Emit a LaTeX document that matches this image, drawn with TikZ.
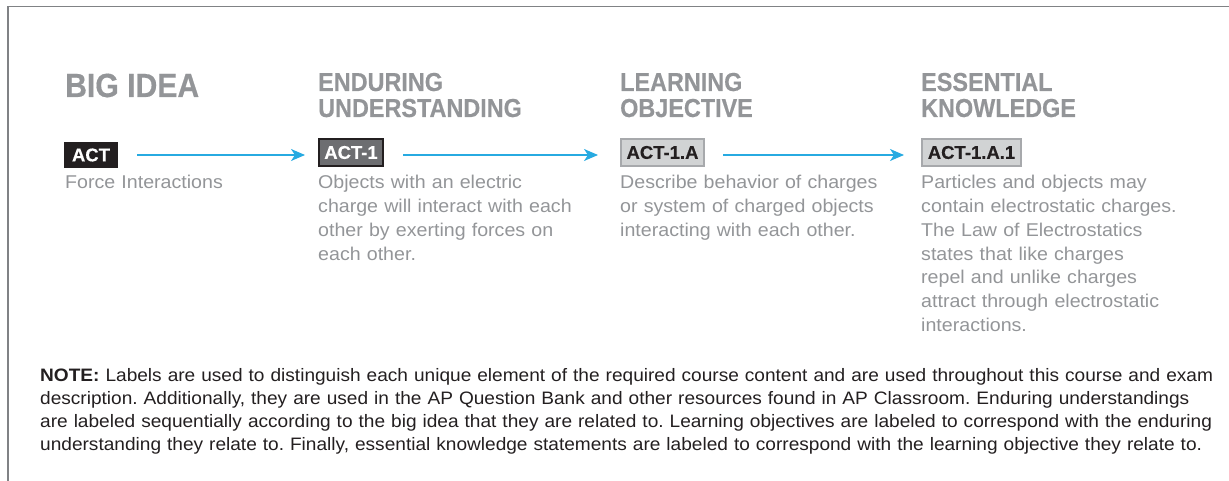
\documentclass[tikz,border=0pt]{standalone}
\usepackage{fontspec}
\setmainfont{Liberation Sans}
\newfontfamily\headfont[FakeStretch=0.9,FakeBold=0.4]{Liberation Sans}
\newfontfamily\bodyfont[FakeStretch=1.06]{Liberation Sans}
\newfontfamily\tagfont[FakeBold=0.3]{Liberation Sans}
\usetikzlibrary{arrows.meta}
\definecolor{txtgray}{HTML}{939598}
\definecolor{darkink}{HTML}{231F20}
\definecolor{midgray}{HTML}{6D6E71}
\definecolor{boxgray}{HTML}{D1D3D4}
\definecolor{bordergray}{HTML}{A7A9AC}
\definecolor{arrowblue}{HTML}{27AAE1}
\definecolor{framegray}{HTML}{808285}
\frenchspacing
\tikzset{
  headtxt/.style={anchor=base west, inner sep=0pt, text=txtgray, align=left, text width=320pt,
    font=\headfont\bfseries\fontsize{26}{26}\selectfont},
  bigtxt/.style={anchor=base west, inner sep=0pt, text=txtgray,
    font=\headfont\bfseries\fontsize{33.5}{36}\selectfont},
  bodytxt/.style={anchor=base west, inner sep=0pt, text=txtgray, align=left, text width=300pt,
    font=\bodyfont\fontsize{18.5}{23.7}\selectfont},
  notetxt/.style={anchor=base west, inner sep=0pt, text=darkink, align=left, text width=1200pt,
    font=\bodyfont\fontsize{18}{23}\selectfont},
  tagbox/.style={inner sep=0pt, font=\tagfont\bfseries\fontsize{18.5}{18.5}\selectfont},
  bigbox/.style={tagbox, fill=darkink, text=white, minimum width=54pt, minimum height=26pt},
  eubox/.style={tagbox, fill=midgray, draw=darkink, line width=2pt, text=white, minimum width=64pt, minimum height=27pt},
  lobox/.style={tagbox, fill=boxgray, draw=bordergray, line width=2pt, text=darkink, minimum height=27pt},
  link/.style={draw=arrowblue, line width=1.5pt, -{Stealth[length=14pt,width=12pt,inset=4pt]}}
}
\begin{document}
\begin{tikzpicture}[x=1pt,y=-1pt]
\useasboundingbox (0,0) rectangle (1229,481);
\draw[framegray, line width=1.5pt] (1229,6.5) -- (8,6.5) -- (8,481);

% headings
\node[bigtxt] (hbig) at (65,97) {BIG IDEA};
\node[headtxt] (heu) at (318,91) {ENDURING\\UNDERSTANDING};
\node[headtxt] (hlo) at (620,91) {LEARNING\\OBJECTIVE};
\node[headtxt] (hek) at (921,91) {ESSENTIAL\\KNOWLEDGE};

% tags
\node[bigbox] (act) at (91,155) {ACT};
\node[eubox] (act1) at (351,152.5) {ACT-1};
\node[lobox, minimum width=83pt] (act1a) at (662.5,152.5) {ACT-1.A};
\node[lobox, minimum width=99pt] (act1a1) at (971.5,152.5) {ACT-1.A.1};

% connectors
\draw[link] ([xshift=19pt]act.east) -- ([xshift=-13pt,yshift=-2.5pt]act1.west);
\draw[link] ([xshift=19pt,yshift=-2.5pt]act1.east) -- ([xshift=-22pt,yshift=-2.5pt]act1a.west);
\draw[link] ([xshift=18pt,yshift=-2.5pt]act1a.east) -- ([xshift=-17pt,yshift=-2.5pt]act1a1.west);

% descriptions
\node[bodytxt] (dbig) at (65,189) {Force Interactions};
\node[bodytxt] (deu) at (318,189) {Objects with an electric\\charge will interact with each\\other by exerting forces on\\each other.};
\node[bodytxt] (dlo) at (620,189) {Describe behavior of charges\\or system of charged objects\\interacting with each other.};
\node[bodytxt] (dek) at (921,189) {Particles and objects may\\contain electrostatic charges.\\The Law of Electrostatics\\states that like charges\\repel and unlike charges\\attract through electrostatic\\interactions.};

% note
\node[notetxt] (note) at (40,381) {{\bfseries NOTE:} Labels are used to distinguish each unique element of the required course content and are used throughout this course and exam\\description. Additionally, they are used in the AP Question Bank and other resources found in AP Classroom. Enduring understandings\\are labeled sequentially according to the big idea that they are related to. Learning objectives are labeled to correspond with the enduring\\understanding they relate to. Finally, essential knowledge statements are labeled to correspond with the learning objective they relate to.};
\end{tikzpicture}
\end{document}
